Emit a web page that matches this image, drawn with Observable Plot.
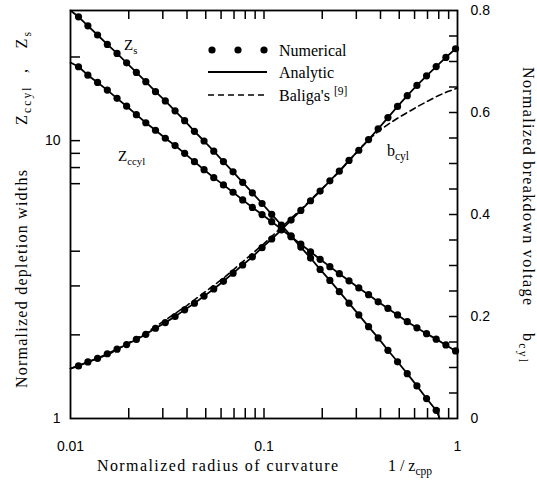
<!DOCTYPE html>
<html><head><meta charset="utf-8">
<script src="https://cdn.jsdelivr.net/npm/d3@7"></script>
<script src="https://cdn.jsdelivr.net/npm/@observablehq/plot@0.6"></script>
<style>body{margin:0;background:#fff;}</style>
</head><body><div id="chart"></div>
<script>
// ---- data ----
const xDots = [0.0110,0.0123,0.0138,0.0155,0.0174,0.0195,0.0219,0.0245,0.0275,0.0309,
  0.0347,0.0389,0.0437,0.0490,0.0550,0.0617,0.0692,0.0776,0.0871,0.0977,
  0.1096,0.123,0.138,0.155,0.174,0.195,0.219,0.245,0.275,0.309,
  0.347,0.389,0.437,0.490,0.550,0.617,0.692,0.776,0.871,0.977];
const zsDots = [27.9,25.9,24.0,22.2,20.6,19.05,17.6,16.3,15.0,13.9,
  12.8,11.8,10.8,9.97,9.16,8.41,7.72,7.08,6.49,5.94,
  5.43,4.97,4.54,4.14,3.78,3.44,3.14,2.86,2.60,2.36,
  2.14,1.95,1.76,1.60,1.45,1.31,1.18,1.07];
const zccylDots = [18.45,17.2,16.2,15.2,14.2,13.3,12.4,11.6,10.9,10.2,
  9.6,9.0,8.4,7.86,7.36,6.93,6.52,6.12,5.75,5.42,
  5.11,4.80,4.51,4.24,3.98,3.74,3.52,3.32,3.13,2.95,
  2.79,2.63,2.49,2.36,2.23,2.12,2.02,1.93,1.84,1.75];
const bcylDots = [0.103,0.111,0.118,0.127,0.136,0.145,0.155,0.165,0.177,0.188,
  0.200,0.213,0.226,0.240,0.254,0.269,0.285,0.301,0.317,0.335,
  0.352,0.370,0.389,0.408,0.427,0.446,0.466,0.485,0.506,0.526,
  0.547,0.568,0.590,0.612,0.633,0.653,0.672,0.690,0.708,0.725];
// analytic curve end points
const zsStart = [0.01, 29.4], zsEnd = [0.81, 1.0];
const zccylStart = [0.01, 19.1], zccylEnd = [1, 1.74];
const bcylStart = [0.01, 0.098], bcylEnd = [1, 0.728];
// Baliga's expression (dashed)
const baligaX = [0.01,0.0158,0.0251,0.0398,0.0631,0.1,0.158,0.251,0.316,0.355,0.398,0.447,0.501,0.562,0.631,0.708,0.794,0.891,1];
const baligaB = [0.098,0.126,0.170,0.221,0.278,0.343,0.413,0.488,0.531,0.550,0.566,0.579,0.591,0.602,0.613,0.623,0.633,0.641,0.648];
// axes
const xTickLabels = [0.01, 0.1, 1];
const xMinorTicks = [0.02,0.03,0.04,0.05,0.06,0.07,0.08,0.09,0.1,0.2,0.3,0.4,0.5,0.6,0.7,0.8,0.9];
const yLeftLabels = [1, 10];
const yLeftTicks = [2,3,4,7,8,9,10,20];
const yRightLabels = [0, 0.2, 0.4, 0.6, 0.8];
const yRightTicks = [0.05,0.1,0.15,0.2,0.25,0.3,0.35,0.4,0.45,0.5,0.55,0.6,0.65,0.7,0.75];

const YMAX = 29.4, BMAX = 0.8;
const L = Math.log10(YMAX);
const bToY = b => Math.pow(10, b / BMAX * L);
const yToB = y => Math.log10(y) / L * BMAX;

const W = 537, H = 480, mL = 70, mR = 80, mT = 10, mB = 62;
const fw = W - mL - mR, fh = H - mT - mB;

const zsLine = [zsStart, ...xDots.slice(0, zsDots.length).map((x,i)=>[x, zsDots[i]]), zsEnd];
const zcLine = [zccylStart, ...xDots.map((x,i)=>[x, zccylDots[i]]), zccylEnd];
const bLine = [bcylStart, ...xDots.map((x,i)=>[x, bcylDots[i]]), bcylEnd];
const zsPts = zsDots.map((v,i)=>[xDots[i], v]);
const zcPts = zccylDots.map((v,i)=>[xDots[i], v]);
const bPts = bcylDots.map((v,i)=>[xDots[i], v]);
const baliga = baligaX.map((x,i)=>[x, baligaB[i]]);

const SW = 1.8, R = 3.6;
const svg = Plot.plot({
  width: W, height: H, marginLeft: mL, marginRight: mR, marginTop: mT, marginBottom: mB,
  style: {fontFamily: "'Liberation Sans', Arial, sans-serif", fontSize: "14px", color: "black", background: "white"},
  x: {type: "log", domain: [0.01, 1]},
  y: {type: "log", domain: [1, YMAX]},
  marks: [
    Plot.line(zsLine, {x: d=>d[0], y: d=>d[1], stroke: "black", strokeWidth: SW}),
    Plot.line(zcLine, {x: d=>d[0], y: d=>d[1], stroke: "black", strokeWidth: SW}),
    Plot.line(bLine, {x: d=>d[0], y: d=>bToY(d[1]), stroke: "black", strokeWidth: SW}),
    Plot.line(baliga, {x: d=>d[0], y: d=>bToY(d[1]), stroke: "black", strokeWidth: 1.6, strokeDasharray: "6,4"}),
    Plot.dot(zsPts, {x: d=>d[0], y: d=>d[1], r: R, fill: "black"}),
    Plot.dot(zcPts, {x: d=>d[0], y: d=>d[1], r: R, fill: "black"}),
    Plot.dot(bPts, {x: d=>d[0], y: d=>bToY(d[1]), r: R, fill: "black"}),
    // inward ticks
    Plot.ruleX(xMinorTicks, {x: d=>d, insetTop: fh - 10, stroke: "black", strokeWidth: 1.5}),
    Plot.ruleX(xMinorTicks, {x: d=>d, insetBottom: fh - 9, stroke: "black", strokeWidth: 1.5}),
    Plot.ruleY(yLeftTicks, {y: d=>d, insetRight: fw - 10, stroke: "black", strokeWidth: 1.5}),
    Plot.ruleY(yRightTicks, {y: d=>bToY(d), insetLeft: fw - 8, stroke: "black", strokeWidth: 1.5}),
    Plot.frame({stroke: "black", strokeWidth: 1.8}),
    Plot.axisX({ticks: xTickLabels, tickSize: 0, tickPadding: 23, label: null, tickFormat: d => String(d)}),
    Plot.axisY({ticks: yLeftLabels, tickSize: 0, tickPadding: 10, label: null, tickFormat: d => String(d)}),
    Plot.axisY(yRightLabels.map(bToY), {anchor: "right", tickSize: 0, tickPadding: 13, label: null,
      tickFormat: d => String(Math.round(yToB(d) * 10) / 10)})
  ]
});
document.getElementById("chart").appendChild(svg);

// ---- titles, curve labels and legend ----
const s = d3.select(svg);
const serif = "'Liberation Serif', 'Times New Roman', serif";
function addText(x, y, rot, parts, size, len) {
  const t = s.append("text").attr("transform", `translate(${x},${y}) rotate(${rot})`)
    .attr("text-anchor", "start")
    .style("font-family", serif).style("font-size", size + "px").attr("fill", "black");
  let shift = 0;
  parts.forEach(p => {
    const ts = t.append("tspan").text(p.t);
    const target = p.sub ? 4 : p.sup ? -6 : 0;
    if (target !== shift) { ts.attr("dy", target - shift); shift = target; }
    if (p.sub || p.sup) ts.style("font-size", (size * 0.72) + "px");
  });
  if (len) t.attr("textLength", len).attr("lengthAdjust", "spacing");
  return t;
}
addText(97, 471, 0, [{t: "Normalized radius of curvature"}], 16, 241);
addText(388, 471, 0, [{t: "1 / z"}, {t: "cpp", sub: true}], 16, 44);
addText(27, 388, -90, [{t: "Normalized depletion widths"}], 16, 218);
addText(27, 125, -90, [{t: "Z"}, {t: "ccyl", sub: true}, {t: "  ,   Z"}, {t: "s", sub: true}], 16, 93);
addText(523, 67, 90, [{t: "Normalized breakdown voltage"}], 16, 238);
addText(523, 333, 90, [{t: "b"}, {t: "cyl", sub: true}], 16, 29);
// curve labels
addText(124, 50, 0, [{t: "Z"}, {t: "s", sub: true}], 15);
addText(118, 161, 0, [{t: "Z"}, {t: "ccyl", sub: true}], 15);
addText(387, 156, 0, [{t: "b"}, {t: "cyl", sub: true}], 16);
// legend
[212, 238, 264].forEach(cx => s.append("circle").attr("cx", cx).attr("cy", 50).attr("r", R).attr("fill", "black"));
s.append("line").attr("x1", 208).attr("x2", 267).attr("y1", 72).attr("y2", 72).attr("stroke", "black").attr("stroke-width", SW);
s.append("line").attr("x1", 208).attr("x2", 267).attr("y1", 95).attr("y2", 95).attr("stroke", "black").attr("stroke-width", 1.6).attr("stroke-dasharray", "6,4");
addText(279, 56, 0, [{t: "Numerical"}], 16);
addText(279, 78, 0, [{t: "Analytic"}], 16);
addText(279, 101, 0, [{t: "Baliga's "}, {t: "[9]", sup: true}], 16);
</script>
</body></html>
